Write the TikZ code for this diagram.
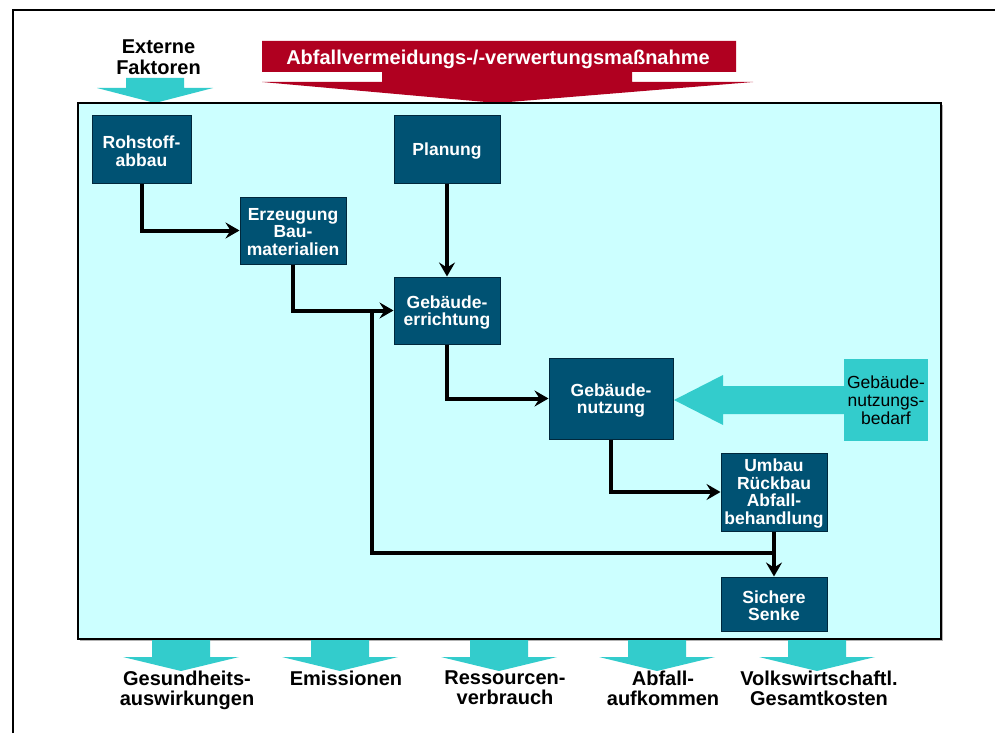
\documentclass[tikz,border=0pt]{standalone}
\usepackage{fontspec}
\setmainfont{Liberation Sans}
\usetikzlibrary{arrows.meta}
\definecolor{boxblue}{RGB}{0,82,115}
\definecolor{boxedge}{RGB}{0,40,60}
\definecolor{panel}{RGB}{204,255,255}
\definecolor{aqua}{RGB}{51,204,204}
\definecolor{banner}{RGB}{176,0,32}
\newcommand\cyandown[4]{\fill[aqua] (#1-29,#2) -- (#1+29,#2) -- (#1+29,#3) -- (#1+58,#3) -- (#1,#4) -- (#1-58,#3) -- (#1-29,#3) -- cycle;}
\begin{document}
\begin{tikzpicture}[x=1pt,y=-1pt,
  dbox/.style={draw=boxedge, line width=1pt, fill=boxblue, inner sep=0pt},
  btext/.style={text=white, font=\bfseries\fontsize{17.5}{17.5}\selectfont, align=center, inner sep=0pt},
  conn/.style={line width=4pt, -{Stealth[length=14pt,width=16pt,inset=5pt]}},
  line/.style={line width=4pt},
  lab/.style={font=\bfseries\fontsize{20}{20}\selectfont, align=center, inner sep=0pt, anchor=north}]
\useasboundingbox (0,0) rectangle (995,733);
\fill[white] (0,0) rectangle (995,733);
% outer frame (cut by the page edges)
\draw[line width=2.5pt] (13,733) -- (13,10) -- (995,10);
% top arrows
\cyandown{155}{78}{88}{103}
\fill[banner] (262,41) -- (736,41) -- (736,72) -- (632,72) -- (632,82) -- (753,82) -- (497,103) -- (262,82) -- (382,82) -- (382,72) -- (262,72) -- cycle;
\node[lab, font=\bfseries\fontsize{20}{21}\selectfont] (ext) at (158.5,40) {Externe\\Faktoren};
\node[lab, text=white] (ban) at (498,49.5) {Abfallvermeidungs-/-verwertungsmaßnahme};
% panel
\fill[gray!60] (80,105) rectangle (943,641);
\draw[fill=panel, line width=2pt] (78,103) rectangle (941,639);
% bottom arrows
\cyandown{181}{640}{657}{671}
\cyandown{340}{640}{657}{671}
\cyandown{499}{640}{657}{671}
\cyandown{657}{640}{657}{671}
\cyandown{817}{640}{657}{671}
\node[lab] (l1) at (187,671) {Gesundheits-\\auswirkungen};
\node[lab] (l2) at (346,671) {Emissionen};
\node[lab] (l3) at (505,671) {Ressourcen-\\verbrauch};
\node[lab] (l4) at (663,671) {Abfall-\\aufkommen};
\node[lab] (l5) at (819,671) {Volkswirtschaftl.\\Gesamtkosten};
% boxes
\node[dbox, minimum width=99pt, minimum height=67pt] (roh) at (141.5,149.5) {};
\node[btext] (rohT) at ([yshift=-1.5pt]roh.center) {Rohstoff-\\abbau};
\node[dbox, minimum width=106pt, minimum height=67pt] (plan) at (447,149.5) {};
\node[btext] (planT) at ([yshift=-2pt]plan.center) {Planung};
\node[dbox, minimum width=106pt, minimum height=67pt] (erz) at (293,230.5) {};
\node[btext] (erzT) at ([yshift=-1.5pt]erz.center) {Erzeugung\\Bau-\\materialien};
\node[dbox, minimum width=106pt, minimum height=67pt] (err) at (447,310.5) {};
\node[btext] (errT) at ([yshift=-2pt]err.center) {Gebäude-\\errichtung};
\node[dbox, minimum width=124pt, minimum height=81pt] (nut) at (611,398.5) {};
\node[btext] (nutT) at ([yshift=-2pt]nut.center) {Gebäude-\\nutzung};
\node[dbox, minimum width=106pt, minimum height=78pt] (umb) at (774,492) {};
\node[btext] (umbT) at ([yshift=-1.5pt]umb.center) {Umbau\\Rückbau\\Abfall-\\behandlung};
\node[dbox, minimum width=106pt, minimum height=54pt] (sen) at (774,604) {};
\node[btext] (senT) at ([yshift=-1.5pt]sen.center) {Sichere\\Senke};
\node[fill=aqua, minimum width=84pt, minimum height=82pt, inner sep=0pt, align=center,
  font=\fontsize{17.5}{18}\selectfont] (bed) at (886,400) {Gebäude-\\nutzungs-\\bedarf};
% demand arrow
\fill[aqua] (bed.west |- 0,386) -- (723,386) -- (723,375) -- (674,400) -- (723,425) -- (723,414) -- (bed.west |- 0,414) -- cycle;
% connectors
\coordinate (j1) at (372,310.5);
\coordinate (j2) at (774,553);
\draw[line] (j1) |- (j2);
\draw[conn] (roh.south) |- (erz.west);
\draw[conn] (plan.south) -- (err.north);
\draw[conn] (erz.south) |- (err.west);
\draw[conn] (err.south) |- (nut.west);
\draw[conn] (nut.south) |- (umb.west);
\draw[conn] (umb.south) -- (sen.north);
\end{tikzpicture}
\end{document}
